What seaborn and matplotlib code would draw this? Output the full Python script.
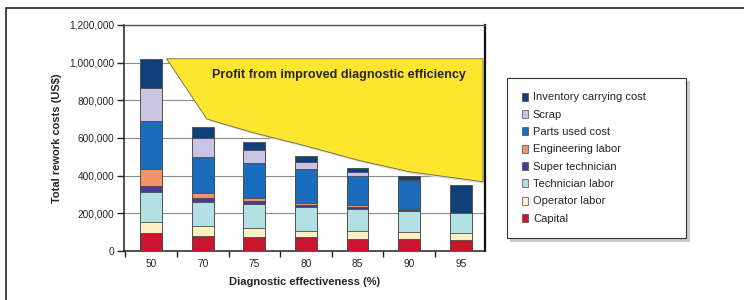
import numpy as np
import pandas as pd
import matplotlib.pyplot as plt
import seaborn as sns
from matplotlib.patches import Patch, Rectangle
from matplotlib.ticker import FuncFormatter, FixedLocator

sns.set_style("white")
plt.rcParams['font.family'] = ['Liberation Sans', 'DejaVu Sans']

# values (US$)
effectiveness = ['50', '70', '75', '80', '85', '90', '95']
capital     = [96000, 78000, 74000, 74000, 62000, 62000, 57000]
operator    = [58000, 53000, 45000, 32000, 43000, 39000, 36000]
technician  = [160000, 126000, 128000, 125000, 117000, 112000, 109000]
super_tech  = [32000, 25000, 19000, 12000, 12000, 5000, 0]
engineering = [87000, 23000, 16000, 12000, 9000, 3000, 0]
parts       = [257000, 195000, 184000, 178000, 154000, 151000, 0]
scrap       = [177000, 101000, 70000, 40000, 20000, 5000, 0]
inventory   = [150000, 55000, 41000, 31000, 21000, 20000, 148000]

components = ['Capital', 'Operator labor', 'Technician labor', 'Super technician',
              'Engineering labor', 'Parts used cost', 'Scrap', 'Inventory carrying cost']
series = [capital, operator, technician, super_tech, engineering, parts, scrap, inventory]
colors = ['#c8162e', '#fdf1c4', '#b3e1e3', '#4a3b96', '#f0956a', '#1a6cbd', '#c9c4e1', '#113f78']

# profit region boundary (lower edge)
profit_x = [0.3, 1.08, 2, 3, 4, 5, 6.43]
profit_y = [1020000, 700000, 626000, 557000, 482000, 420000, 367000]
profit_top = 1020000

df = pd.DataFrame({'effectiveness': effectiveness})
cum = np.zeros(len(effectiveness))
for name, vals in zip(components, series):
    cum = cum + np.array(vals)
    df[name] = cum

fig = plt.figure(figsize=(7.44, 3.0), dpi=100)
ax = fig.add_axes([0.167, 0.164, 0.485, 0.753])

# stacked bars: draw cumulative totals from the top component down
for name, col in reversed(list(zip(components, colors))):
    sns.barplot(data=df, x='effectiveness', y=name, order=effectiveness, color=col,
                width=0.42, edgecolor='#4a4a4a', linewidth=0.6, saturation=1,
                ax=ax, zorder=3)

# profit polygon with shadow
px = [profit_x[0], profit_x[-1]] + profit_x[::-1]
py = [profit_top, profit_top] + profit_y[::-1]
ax.fill(np.array(px) + 0.06, np.array(py) - 12000, color='#d9d9d9', zorder=2, lw=0)
ax.fill(px, py, facecolor='#ffe62e', edgecolor='#6b6b3a', linewidth=0.6, zorder=4)
ax.text(3.64, 935000, 'Profit from improved diagnostic efficiency', ha='center',
        va='center', fontsize=9.1, fontweight='bold', zorder=5)

ax.set_xlim(-0.52, 6.47)
ax.set_ylim(0, 1200000)
ax.set_yticks(np.arange(0, 1200001, 200000))
ax.yaxis.set_major_formatter(FuncFormatter(lambda v, p: f'{int(v):,}'))
ax.grid(axis='y', color='#8c8c8c', linewidth=0.8, zorder=0)
ax.set_axisbelow(True)
ax.tick_params(axis='y', length=5, width=1, color='#222222', labelsize=7.3, left=True, pad=2)
ax.tick_params(axis='x', which='major', length=0, labelsize=7.3, pad=6)
ax.xaxis.set_minor_locator(FixedLocator(np.arange(-0.5, 6.6, 1)))
ax.tick_params(axis='x', which='minor', length=4, width=1, color='#222222', bottom=True)

ax.set_xlabel('Diagnostic effectiveness (%)', fontsize=8, fontweight='bold', labelpad=6)
ax.set_ylabel('Total rework costs (US$)', fontsize=8, fontweight='bold', labelpad=5)

for side in ['left', 'bottom']:
    ax.spines[side].set_color('#222222')
    ax.spines[side].set_linewidth(1.1)
ax.spines['top'].set_color('#555555')
ax.spines['top'].set_linewidth(1.0)
ax.spines['right'].set_color('#111111')
ax.spines['right'].set_linewidth(1.6)

# legend
handles = [Patch(facecolor=c, edgecolor='#4a4a4a', linewidth=0.5, label=n)
           for n, c in reversed(list(zip(components, colors)))]
leg = fig.legend(handles=handles, loc='upper left', bbox_to_anchor=(0.682, 0.74, 0.24, 0.0),
                 mode='expand', fontsize=8, frameon=True, fancybox=False,
                 shadow={'color': '#cccccc', 'alpha': 1},
                 handlelength=0.55, handleheight=0.75, handletextpad=0.45, labelspacing=0.66,
                 borderpad=1.3, borderaxespad=0)
leg.get_frame().set_edgecolor('#333333')
leg.get_frame().set_linewidth(0.8)

# outer frame
fig.patches.append(Rectangle((0.008, -0.1), 1.2, 1.072, transform=fig.transFigure,
                             fill=False, edgecolor='#222222', linewidth=1.2))

plt.savefig('out.png', dpi=100)
